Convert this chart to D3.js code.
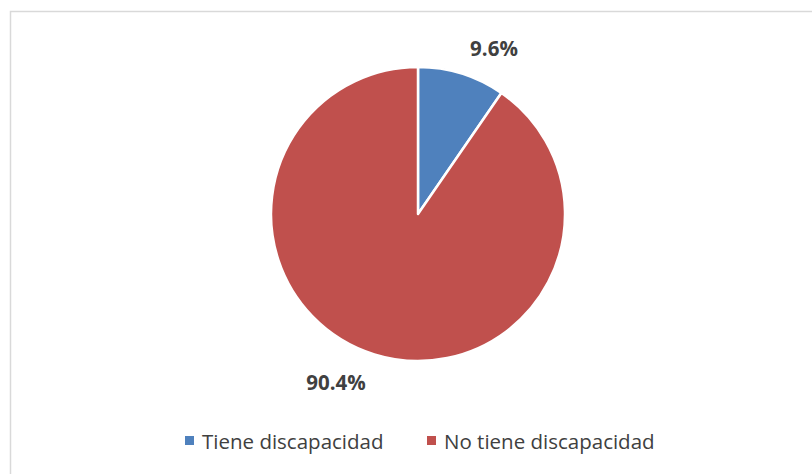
<!DOCTYPE html>
<html>
<head>
<meta charset="utf-8">
<script src="https://cdn.jsdelivr.net/npm/d3@7"></script>
<style>
  body { margin: 0; background: #fff; }
  svg { display: block; font-family: "Open Sans", sans-serif; }
</style>
</head>
<body>
<svg id="chart" width="812" height="474"></svg>
<script>
var categories = ["Tiene discapacidad", "No tiene discapacidad"];
var values = [9.6, 90.4];
var colors = ["#4f81bd", "#c0504d"];

var dimensions = { width: 812, height: 474, cx: 418, cy: 214, radius: 147 };

var svg = d3.select("#chart");

// chart frame (runs past the right/bottom edge in the original)
svg.append("rect")
  .attr("x", 10.5).attr("y", 11.5)
  .attr("width", 820).attr("height", 480)
  .attr("fill", "none")
  .attr("stroke", "#d9d9d9")
  .attr("stroke-width", 1.5);

var data = categories.map((c, i) => ({ name: c, value: values[i], color: colors[i] }));

var pie = d3.pie().sort(null).value((d) => d.value);
var arc = d3.arc().innerRadius(0).outerRadius(dimensions.radius);
var arcs = pie(data);

var g = svg.append("g")
  .attr("transform", `translate(${dimensions.cx},${dimensions.cy})`);

g.selectAll("path")
  .data(arcs)
  .enter()
  .append("path")
  .attr("d", arc)
  .attr("fill", (d) => d.data.color)
  .attr("stroke", "#fff")
  .attr("stroke-width", 2.5)
  .attr("stroke-linejoin", "round");

// data labels, placed like the original (outside the slices)
var labelX = [494, 336];
var labelY = [48, 382];

g.selectAll("text.lbl")
  .data(arcs)
  .enter()
  .append("text")
  .attr("class", "lbl")
  .attr("text-anchor", "middle")
  .attr("dominant-baseline", "central")
  .attr("x", (d, i) => labelX[i] - dimensions.cx)
  .attr("y", (d, i) => labelY[i] - dimensions.cy)
  .attr("fill", "#404040")
  .attr("font-size", 20.5)
  .attr("font-weight", "bold")
  .text((d) => d.data.value.toFixed(1) + "%");

// legend
var legendX = [185, 427];
var legend = svg.selectAll("g.legend")
  .data(data)
  .enter()
  .append("g")
  .attr("class", "legend")
  .attr("transform", (d, i) => `translate(${legendX[i]},436)`);

legend.append("rect")
  .attr("width", 9).attr("height", 9)
  .attr("fill", (d) => d.color);

legend.append("text")
  .attr("x", 17)
  .attr("y", 4.5)
  .attr("dominant-baseline", "central")
  .attr("fill", "#404040")
  .attr("font-size", 20.5)
  .text((d) => d.name);
</script>
</body>
</html>
